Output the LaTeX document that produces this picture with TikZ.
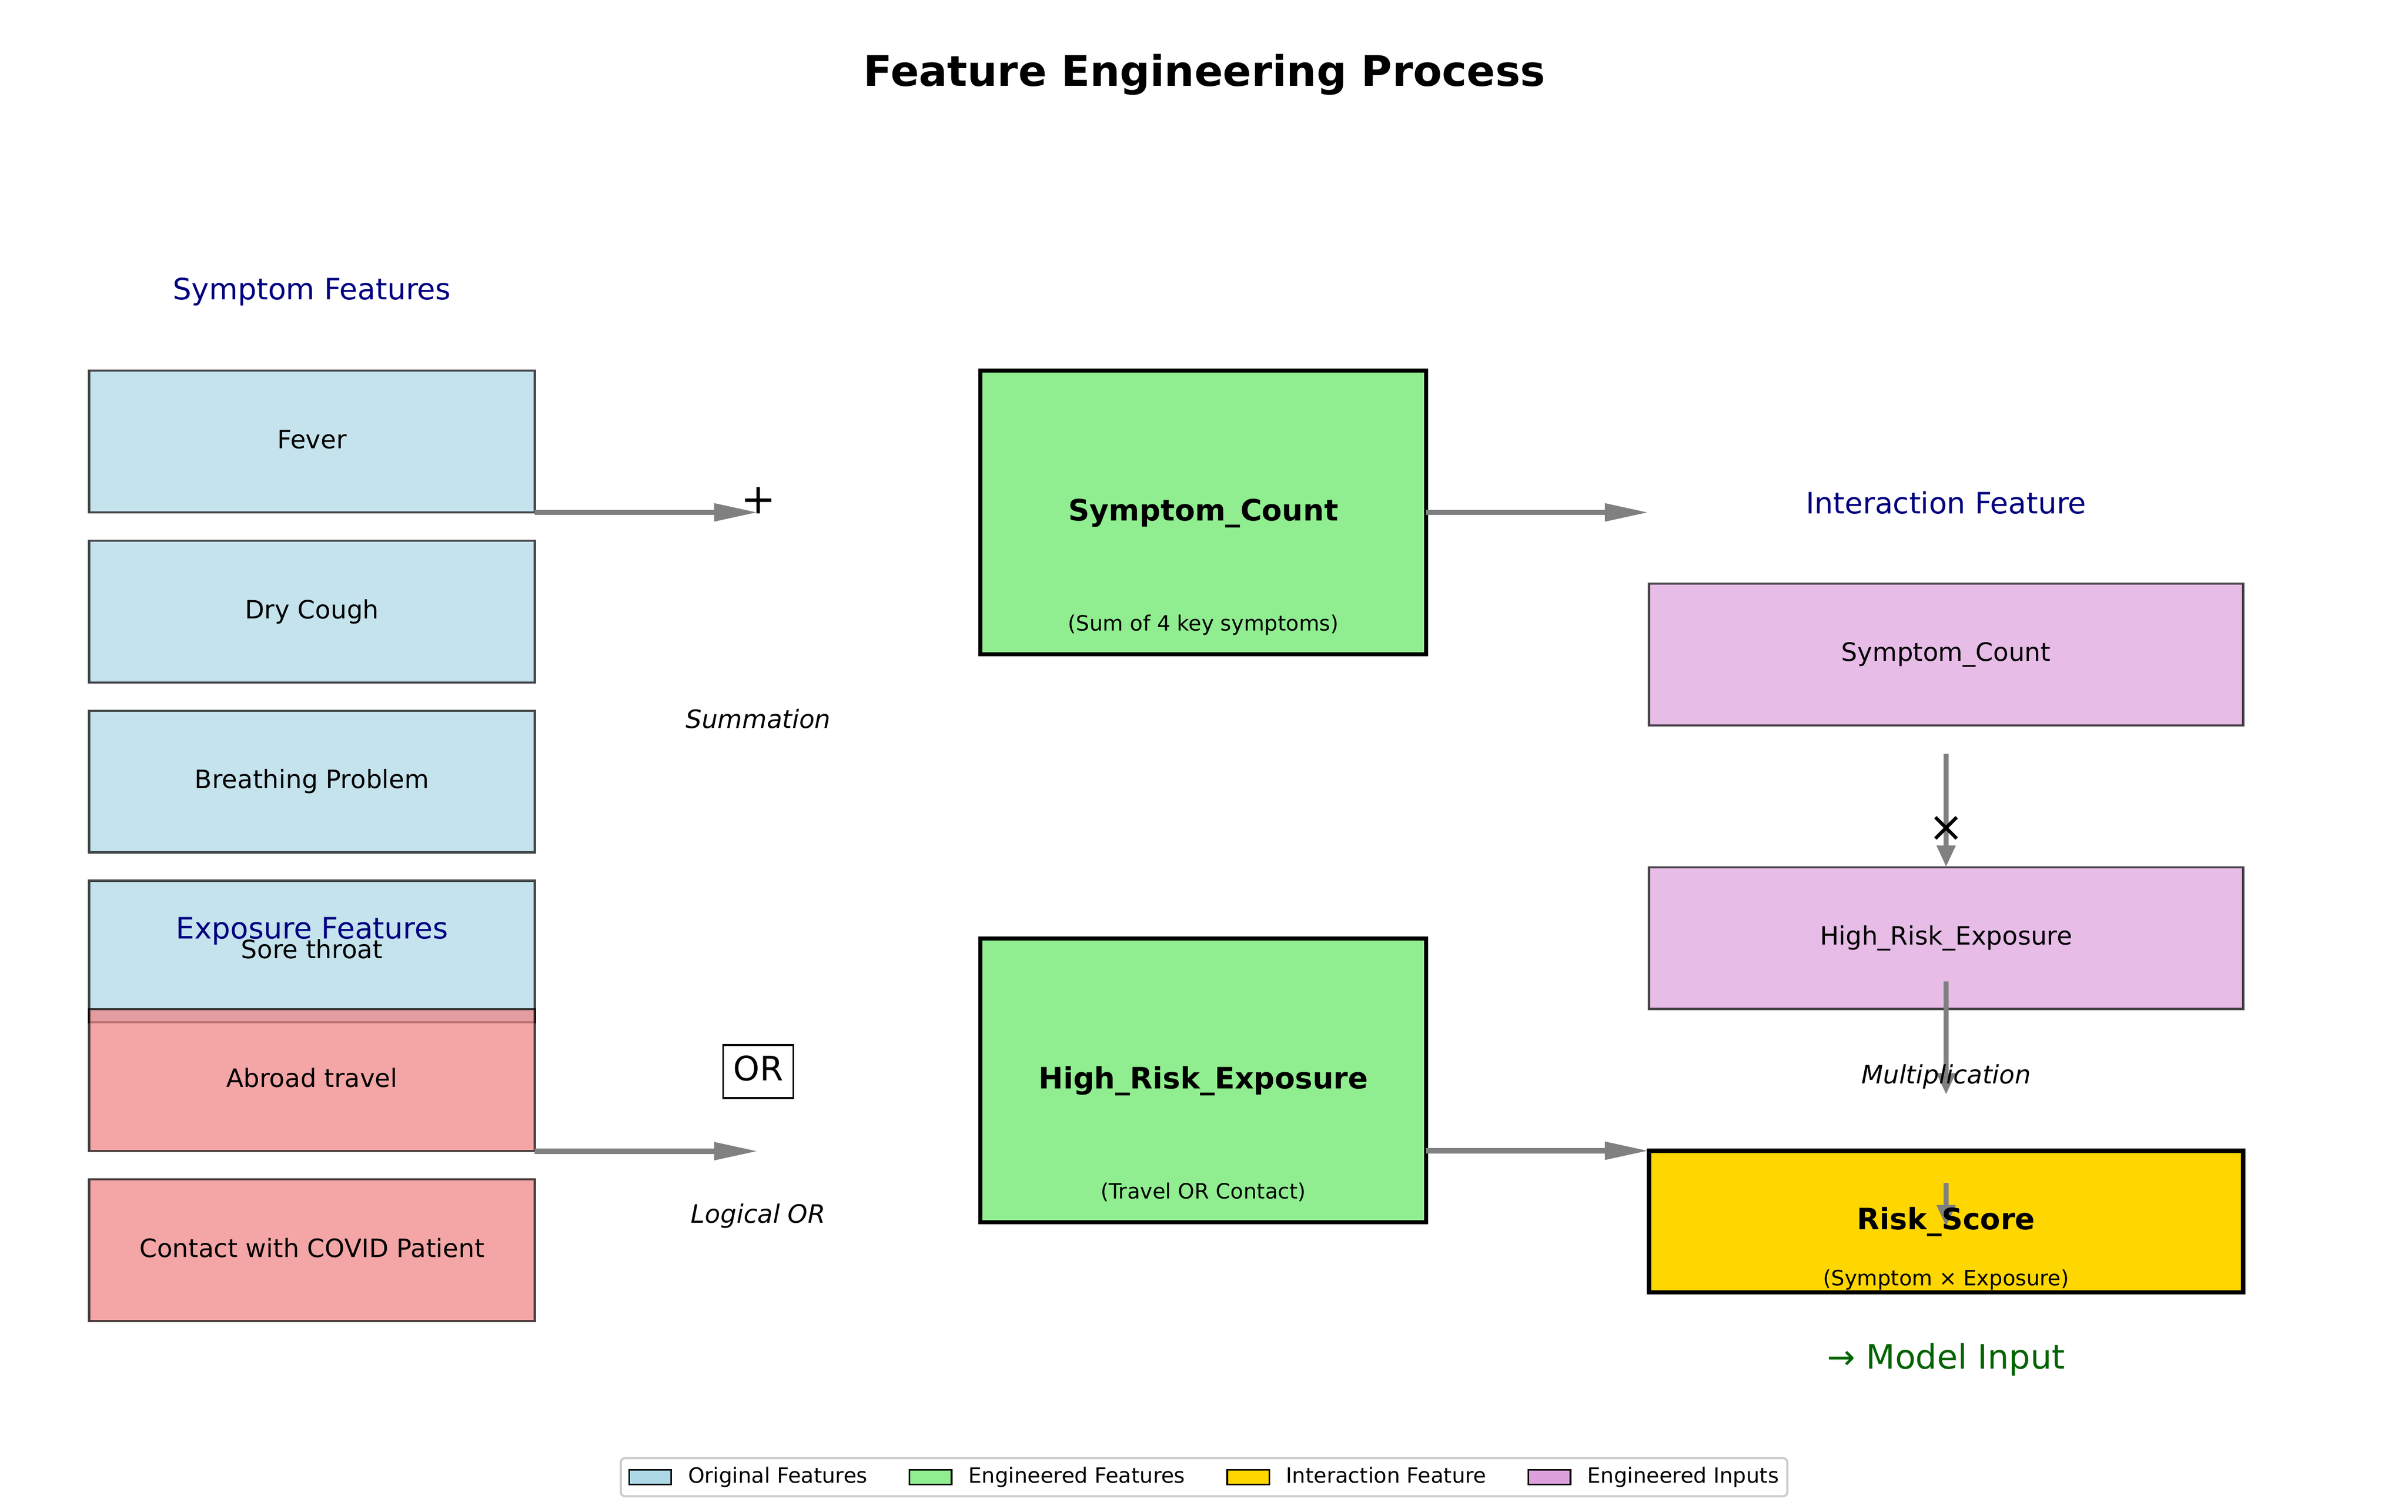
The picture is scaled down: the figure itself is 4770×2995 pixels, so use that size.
\documentclass[tikz,border=0pt]{standalone}
\usepackage{fontspec}
\setmainfont{DejaVu Sans}
\usepackage{tikz}
\usetikzlibrary{arrows.meta,positioning,fit}

\definecolor{lightblue}{HTML}{ADD8E6}
\definecolor{lightcoral}{HTML}{F08080}
\definecolor{lightgreen}{HTML}{90EE90}
\definecolor{goldfill}{HTML}{FFD700}
\definecolor{plumfill}{HTML}{DDA0DD}
\definecolor{navyblue}{HTML}{000080}
\definecolor{modelgreen}{HTML}{006400}
\definecolor{arrowgray}{HTML}{808080}
\definecolor{legendedge}{HTML}{CCCCCC}

\tikzset{
	every node/.style={inner sep=0pt, outer sep=0pt},
	txt10/.style={font=\fontsize{10}{12}\selectfont, text height=7.6pt, text depth=2.1pt},
	txt12/.style={font=\fontsize{12}{14}\selectfont, text height=9.1pt, text depth=2.5pt},
	txt14/.style={font=\fontsize{14}{17}\selectfont, text height=10.6pt, text depth=2.9pt},
	txt16/.style={font=\fontsize{16}{19}\selectfont, text height=12.2pt, text depth=3.4pt},
	txt20/.style={font=\fontsize{20}{24}\selectfont, text height=15.2pt, text depth=4.2pt},
	rawbox/.style={rectangle, draw=black, draw opacity=0.7, fill opacity=0.7, text opacity=1,
		line width=1pt, minimum width=211.9pt, minimum height=67.4pt, txt12},
	engbox/.style={rectangle, draw=black, line width=2pt, fill=lightgreen,
		minimum width=211.9pt, minimum height=134.9pt,
		font=\fontsize{14}{17}\selectfont\bfseries, text height=10.6pt, text depth=2.9pt}
}

\begin{document}
\begin{tikzpicture}[x=0.24pt, y=-0.24pt,
	symbox/.style={rawbox, fill=lightblue},
	expbox/.style={rawbox, fill=lightcoral},
	intbox/.style={rawbox, fill=plumfill, minimum width=282.5pt},
	riskbox/.style={engbox, fill=goldfill, minimum width=282.5pt, minimum height=67.4pt},
	header/.style={txt14, text=navyblue},
	subnote/.style={txt10},
	opnote/.style={txt12, font=\fontsize{12}{14}\selectfont\itshape},
	opsign/.style={txt20},
	orbox/.style={txt16, draw=black, line width=0.9pt, fill=white, inner sep=4.8pt},
	harrow/.style={draw=arrowgray, line width=2.6pt, -{Triangle[length=21pt, width=8pt]}},
	varrow/.style={draw=arrowgray, line width=2.6pt, -{Triangle[length=10.3pt, width=8.4pt]}},
	legpatch/.style={rectangle, draw=black, line width=0.8pt, minimum width=20pt, minimum height=7pt},
	legtext/.style={txt10}]
	\useasboundingbox (0,0) rectangle (4770,2995);
	\fill[white] (0,0) rectangle (4770,2995);

	\node[txt20, font=\fontsize{20}{24}\selectfont\bfseries] (title) at (2386,148) {Feature Engineering Process};

	% Symptom features
	\node[symbox] (fever) at (618,874.5) {Fever};
	\node[symbox] (cough) [below=13.44pt of fever] {Dry Cough};
	\node[symbox] (breath) [below=13.44pt of cough] {Breathing Problem};
	\node[symbox] (sore) [below=13.44pt of breath] {Sore throat};
	\node[header] (symhead) at (618,577) {Symptom Features};
	\node[header] (exphead) at (618,1843) {Exposure Features};

	% Exposure features
	\node[expbox] (travel) [below=-6.24pt of sore] {Abroad travel};
	\node[expbox] (contact) [below=13.44pt of travel] {Contact with COVID Patient};

	% Engineered features
	\node[engbox] (symcnt) at (2383.7,1015) {Symptom\_Count};
	\node[subnote] (symsub) at ([yshift=14pt]symcnt.south) {(Sum of 4 key symptoms)};
	\node[engbox] (hrexp) at (2383.7,2140) {High\_Risk\_Exposure};
	\node[subnote] (hrsub) at ([yshift=14pt]hrexp.south) {(Travel OR Contact)};

	% Interaction feature
	\node[header] (inthead) at (3855,1001) {Interaction Feature};
	\node[intbox] (intsym) at (3855,1296.2) {Symptom\_Count};
	\node[intbox] (inthre) [below=67.44pt of intsym] {High\_Risk\_Exposure};
	\node[riskbox] (risk) [below=67.44pt of inthre] {};

	% Operators
	\node[opsign] (plus) at (1502,995) {+};
	\node[orbox] (orop) at (1502,2122.5) {OR};

	% Horizontal Arrows
	\draw[harrow] (fever.south east) -- (fever.south east -| plus);
	\draw[harrow] (travel.south east) -- (travel.south east -| orop);
	\draw[harrow] (symcnt.east) -- (symcnt.east -| intsym.west);
	\draw[harrow] (hrexp.east |- risk.north) -- (risk.north west);

	% Vertical Arrows
	\coordinate (m4) at ([yshift=-13.6pt]intsym.south);
	\coordinate (m5a) at ([yshift=13.1pt]inthre.south);
	\coordinate (m5b) at ([yshift=26.6pt]risk.north);
	\coordinate (m7a) at ([yshift=-15.2pt]risk.north);
	\coordinate (m7b) at ([yshift=-36.1pt]risk.north);
	\draw[varrow] (m4) -- (inthre.north);
	\draw[varrow] (m5a) -- (m5b);
	\draw[varrow] (m7a) -- (m7b);

	\node[opnote] (summ) at (1502,1429) {Summation};
	\node[opnote] (logor) at (1502,2409) {Logical OR};
	\node[opsign] (times) at (3855,1644) {×};
	\node[opnote] (mult) at (3855,2133) {Multiplication};
	\node[txt14, font=\fontsize{14}{17}\selectfont\bfseries] (risklbl) at (risk.center) {Risk\_Score};
	\node[subnote] (risksub) at ([yshift=6pt]risk.south) {(Symptom × Exposure)};
	\node[txt16, text=modelgreen] (model) at (3855,2693) {→ Model Input};

	% Legend
	\node[legpatch, fill=lightblue] (lp1) at (1288,2926) {};
	\node[legtext] (lt1) [right=8pt of lp1] {Original Features};
	\node[legpatch, fill=lightgreen] (lp2) [right=20pt of lt1] {};
	\node[legtext] (lt2) [right=8pt of lp2] {Engineered Features};
	\node[legpatch, fill=goldfill] (lp3) [right=20pt of lt2] {};
	\node[legtext] (lt3) [right=8pt of lp3] {Interaction Feature};
	\node[legpatch, fill=plumfill] (lp4) [right=20pt of lt3] {};
	\node[legtext] (lt4) [right=8pt of lp4] {Engineered Inputs};
	\node[draw=legendedge, line width=1pt, rounded corners=2pt, inner xsep=4pt, inner ysep=4.2pt,
		fit=(lp1)(lt1)(lt4)] (legbox) {};
\end{tikzpicture}
\end{document}
